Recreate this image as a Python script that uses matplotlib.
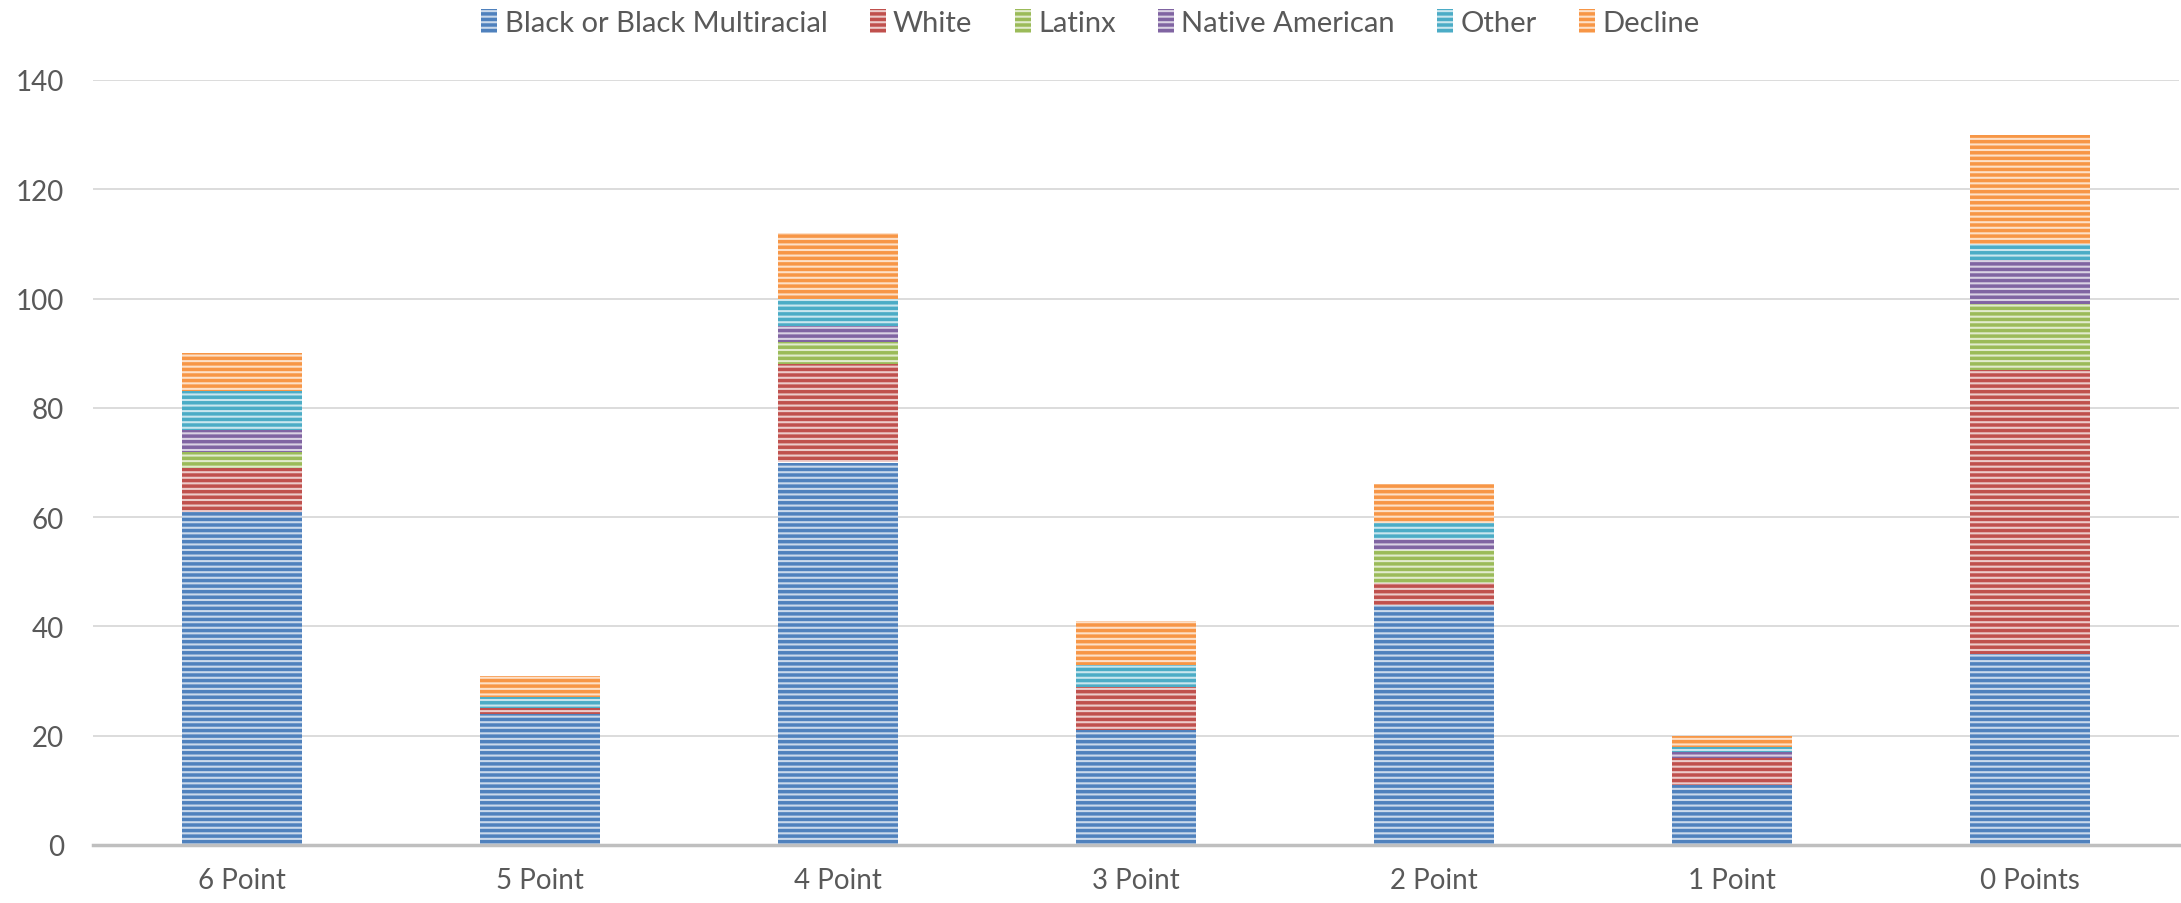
import matplotlib
matplotlib.use("Agg")
import matplotlib.pyplot as plt
import matplotlib.colors as mcolors
import numpy as np

categories = ["6 Point", "5 Point", "4 Point", "3 Point", "2 Point", "1 Point", "0 Points"]
black = [61, 24, 70, 21, 44, 11, 35]
white = [8, 1, 18, 8, 4, 5, 52]
latinx = [3, 0, 4, 0, 6, 0, 12]
native = [4, 0, 3, 0, 2, 1, 8]
other = [7, 2, 5, 4, 3, 1, 3]
decline = [7, 4, 12, 8, 7, 2, 20]

series = [
    ("Black or Black Multiracial", black, "#4F81BD"),
    ("White", white, "#C0504D"),
    ("Latinx", latinx, "#9BBB59"),
    ("Native American", native, "#8064A2"),
    ("Other", other, "#4BACC6"),
    ("Decline", decline, "#F79646"),
]

plt.rcParams["font.family"] = ["Lato", "DejaVu Sans"]
plt.rcParams["hatch.linewidth"] = 2.5

fig = plt.figure(figsize=(21.81, 9.04), dpi=100)
ax = fig.add_axes([93 / 2181, 1 - 846 / 904, (2179 - 93) / 2181, (846 - 81) / 904])

x = np.arange(len(categories))
bottom = np.zeros(len(categories))
for name, vals, col in series:
    light = mcolors.to_rgb(col)
    light = tuple(0.3 * c + 0.7 for c in light)
    ax.bar(x, vals, 0.4, bottom=bottom, color=light, edgecolor=col,
           hatch="---", linewidth=0, label=name)
    bottom += np.array(vals)

ax.set_xlim(-0.5, len(categories) - 0.5)
ax.set_ylim(0, 140)
ax.set_yticks(range(0, 141, 20))
ax.set_xticks(x)
ax.set_xticklabels(categories)
ax.tick_params(axis="both", length=0, labelsize=20, colors="#595959")
ax.tick_params(axis="x", pad=16)
ax.tick_params(axis="y", pad=21)
ax.grid(True, axis="y", color="#d9d9d9", linewidth=1.3)
ax.set_axisbelow(True)
for s in ["top", "right", "left"]:
    ax.spines[s].set_visible(False)
ax.spines["bottom"].set_color("#bfbfbf")
ax.spines["bottom"].set_linewidth(2.5)

leg = fig.legend(loc="upper center", bbox_to_anchor=(0.5, 1.018), ncol=6, frameon=False,
                 fontsize=21, handlelength=0.55, handleheight=0.9, handletextpad=0.25,
                 columnspacing=1.45)
for t in leg.get_texts():
    t.set_color("#595959")

fig.savefig("out.png", dpi=100)
